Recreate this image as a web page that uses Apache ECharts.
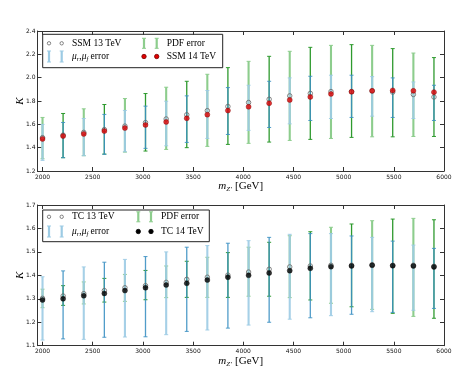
<!DOCTYPE html>
<html><head><meta charset="utf-8">
<script src="https://cdn.jsdelivr.net/npm/echarts@6/dist/echarts.min.js"></script>
<style>html,body{margin:0;padding:0;background:#fff}#c{width:473px;height:385px}</style>
</head><body><div id="c"></div>
<script>
const mass = [2000, 2205, 2411, 2616, 2821, 3026, 3232, 3437, 3642, 3847, 4053, 4258, 4463, 4668, 4874, 5079, 5284, 5489, 5695, 5900];
const xTicks = [2000, 2500, 3000, 3500, 4000, 4500, 5000, 5500, 6000];

const ssm13 = [1.486, 1.508, 1.531, 1.555, 1.585, 1.615, 1.646, 1.682, 1.717, 1.753, 1.787, 1.815, 1.844, 1.865, 1.881, 1.880, 1.886, 1.876, 1.856, 1.834];
const ssm14 = [1.475, 1.499, 1.518, 1.542, 1.568, 1.595, 1.621, 1.652, 1.683, 1.718, 1.750, 1.781, 1.809, 1.835, 1.861, 1.879, 1.887, 1.891, 1.887, 1.876];
const ssmPdfLo = [1.305, 1.314, 1.331, 1.345, 1.362, 1.371, 1.385, 1.400, 1.411, 1.428, 1.437, 1.448, 1.462, 1.471, 1.479, 1.488, 1.493, 1.493, 1.496, 1.496];
const ssmPdfHi = [1.659, 1.693, 1.733, 1.770, 1.821, 1.864, 1.918, 1.969, 2.029, 2.086, 2.140, 2.183, 2.226, 2.260, 2.277, 2.283, 2.277, 2.249, 2.211, 2.172];
const ssmScaleLo = [1.291, 1.314, 1.331, 1.343, 1.365, 1.394, 1.416, 1.445, 1.479, 1.513, 1.548, 1.573, 1.604, 1.633, 1.650, 1.659, 1.670, 1.659, 1.650, 1.633];
const ssmScaleHi = [1.599, 1.616, 1.650, 1.685, 1.719, 1.756, 1.798, 1.844, 1.890, 1.915, 1.935, 1.969, 1.998, 2.012, 2.021, 2.021, 2.009, 1.998, 1.963, 1.935];

const tc13 = [1.302, 1.312, 1.322, 1.335, 1.347, 1.356, 1.370, 1.383, 1.392, 1.401, 1.414, 1.426, 1.436, 1.440, 1.443, 1.443, 1.445, 1.443, 1.443, 1.439];
const tc14 = [1.295, 1.300, 1.313, 1.323, 1.335, 1.347, 1.359, 1.366, 1.380, 1.392, 1.400, 1.410, 1.420, 1.430, 1.437, 1.440, 1.443, 1.441, 1.440, 1.436];
const tcPdfLo = [1.262, 1.272, 1.278, 1.286, 1.289, 1.296, 1.305, 1.306, 1.306, 1.306, 1.311, 1.311, 1.305, 1.295, 1.281, 1.266, 1.255, 1.238, 1.225, 1.217];
const tcPdfHi = [1.341, 1.356, 1.372, 1.387, 1.404, 1.421, 1.440, 1.460, 1.477, 1.497, 1.520, 1.541, 1.569, 1.586, 1.605, 1.619, 1.633, 1.640, 1.643, 1.637];
const tcScaleLo = [1.124, 1.129, 1.127, 1.136, 1.137, 1.138, 1.147, 1.161, 1.167, 1.175, 1.188, 1.200, 1.213, 1.219, 1.228, 1.234, 1.245, 1.242, 1.251, 1.259];
const tcScaleHi = [1.394, 1.419, 1.436, 1.456, 1.468, 1.480, 1.500, 1.520, 1.527, 1.537, 1.548, 1.562, 1.575, 1.578, 1.578, 1.568, 1.562, 1.546, 1.529, 1.515];

const COL = {
  blueL: '#9ccbe4', blueD: '#3d91c3',
  greenL: '#8dcd8d', greenD: '#2e9a2e',
  frame: '#333'
};
const SERIF = '"Liberation Serif", "DejaVu Serif", serif';
const SANS = '"DejaVu Sans", "Liberation Sans", sans-serif';

function zip3(a, b, c) { return a.map((v, i) => [v, b[i], c[i]]); }
function zip2(a, b) { return a.map((v, i) => [v, b[i]]); }

function errRender(light, dark, opacity) {
  return function (params, api) {
    const x = api.value(0), lo = api.value(1), hi = api.value(2);
    const p1 = api.coord([x, lo]), p2 = api.coord([x, hi]);
    const odd = params.dataIndex % 2 === 1;
    const c = odd ? dark : light;
    const w = odd ? 1.3 : 2.1;
    const st = { stroke: c, lineWidth: w, opacity: opacity };
    const cst = { stroke: c, lineWidth: 1, opacity: opacity };
    return { type: 'group', children: [
      { type: 'line', shape: { x1: p1[0], y1: p1[1], x2: p2[0], y2: p2[1] }, style: st },
      { type: 'line', shape: { x1: p1[0] - 2, y1: p1[1], x2: p1[0] + 2, y2: p1[1] }, style: cst },
      { type: 'line', shape: { x1: p2[0] - 2, y1: p2[1], x2: p2[0] + 2, y2: p2[1] }, style: cst }
    ]};
  };
}

const xNameRich = {
  i: { fontFamily: SERIF, fontStyle: 'italic', fontSize: 11, color: '#000' },
  s: { fontFamily: SERIF, fontStyle: 'italic', fontSize: 7, color: '#000', padding: [6, 0, 0, 0] },
  n: { fontFamily: SERIF, fontSize: 11, color: '#000' }
};

function xAxes(gi) {
  return [
    { gridIndex: gi, type: 'value', min: 1950, max: 6000, position: 'bottom',
      name: '{i|m}{s|Z\u2032} {n|[GeV]}', nameLocation: 'middle', nameGap: 9, nameMoveOverlap: false,
      nameTextStyle: { rich: xNameRich },
      axisLine: { show: true, lineStyle: { color: COL.frame, width: 1 } },
      axisTick: { show: true, inside: true, length: 4, customValues: xTicks, lineStyle: { color: COL.frame } },
      axisLabel: { show: true, customValues: xTicks, fontSize: 6, fontFamily: SANS, color: '#111', margin: 3, formatter: v => String(Math.round(v)) },
      splitLine: { show: false } },
    { gridIndex: gi, type: 'value', min: 1950, max: 6000, position: 'top',
      axisLine: { show: true, lineStyle: { color: COL.frame, width: 1 } },
      axisTick: { show: true, inside: true, length: 4, customValues: xTicks, lineStyle: { color: COL.frame } },
      axisLabel: { show: false }, splitLine: { show: false } }
  ];
}
function yAxes(gi, min, max, step) {
  return [
    { gridIndex: gi, type: 'value', min: min, max: max, interval: step, position: 'left',
      name: 'K', nameLocation: 'middle', nameGap: 12, nameMoveOverlap: false,
      nameTextStyle: { fontFamily: SERIF, fontStyle: 'italic', fontSize: 11, color: '#000' },
      axisLine: { show: true, lineStyle: { color: COL.frame, width: 1 } },
      axisTick: { show: true, inside: true, length: 4, lineStyle: { color: COL.frame } },
      axisLabel: { fontSize: 6, fontFamily: SANS, color: '#111', margin: 2, formatter: v => v.toFixed(1) },
      splitLine: { show: false } },
    { gridIndex: gi, type: 'value', min: min, max: max, interval: step, position: 'right',
      axisLine: { show: true, lineStyle: { color: COL.frame, width: 1 } },
      axisTick: { show: true, inside: true, length: 4, lineStyle: { color: COL.frame } },
      axisLabel: { show: false }, splitLine: { show: false } }
  ];
}

function errSeries(xi, yi, data, light, dark, op, z) {
  return { type: 'custom', xAxisIndex: xi, yAxisIndex: yi, data: data, z: z,
    renderItem: errRender(light, dark, op), encode: { x: 0, y: [1, 2] }, silent: true };
}
function ptSeries(xi, yi, data, opts, z) {
  return Object.assign({ type: 'scatter', xAxisIndex: xi, yAxisIndex: yi, data: data, z: z, silent: true }, opts);
}

const open13 = { symbol: 'circle', symbolSize: 4.5, itemStyle: { color: 'rgba(255,255,255,0)', borderColor: '#666', borderWidth: 1 } };
const red14 = { symbol: 'circle', symbolSize: 5, itemStyle: { color: '#e00000', borderColor: '#700', borderWidth: 0.5 } };
const blk14 = { symbol: 'circle', symbolSize: 5, itemStyle: { color: '#000', borderColor: '#000', borderWidth: 0.5 } };

// Legend (graphic)
const lt = { fontFamily: SERIF, fontSize: 9.5, fill: '#000' };
function legendBar(x, yc, color, h) {
  return [
    { type: 'line', shape: { x1: x, y1: yc - h / 2, x2: x, y2: yc + h / 2 }, style: { stroke: color, lineWidth: 2.2 } },
    { type: 'line', shape: { x1: x - 2, y1: yc - h / 2, x2: x + 2, y2: yc - h / 2 }, style: { stroke: color, lineWidth: 1 } },
    { type: 'line', shape: { x1: x - 2, y1: yc + h / 2, x2: x + 2, y2: yc + h / 2 }, style: { stroke: color, lineWidth: 1 } }
  ];
}
function legendDot(x, yc, r, fill, stroke) {
  return { type: 'circle', shape: { cx: x, cy: yc, r: r }, style: { fill: fill, stroke: stroke, lineWidth: 0.8 } };
}
function muText(x, y) {
  return { type: 'text', x: x, y: y, style: { text: '{m|\u03bc}{s|r}{c|,}{m|\u03bc}{s|f}{c| error}', verticalAlign: 'middle',
    rich: { m: { fontFamily: SERIF, fontStyle: 'italic', fontSize: 9.5 }, s: { fontFamily: SERIF, fontStyle: 'italic', fontSize: 6.5, padding: [5, 0, 0, 0] }, c: { fontFamily: SERIF, fontSize: 9.5 } } } };
}
function legend(box, r1, r2, c2x, lab13, lab14, fill14, stroke14) {
  const g = [];
  g.push({ type: 'rect', shape: { x: box[0], y: box[1], width: box[2], height: box[3] }, style: { fill: '#fff', stroke: '#222', lineWidth: 1 } });
  g.push(legendDot(49, r1, 1.7, '#fff', '#666'));
  g.push(legendDot(61.7, r1, 1.7, '#fff', '#666'));
  g.push({ type: 'text', x: 72, y: r1, style: Object.assign({ text: lab13, verticalAlign: 'middle' }, lt) });
  legendBar(49, r2, COL.blueL, 11).forEach(e => g.push(e));
  legendBar(61.7, r2, COL.blueL, 11).forEach(e => g.push(e));
  g.push(muText(72, r2));
  legendBar(c2x, r1, COL.greenL, 10).forEach(e => g.push(e));
  legendBar(c2x + 12.7, r1, COL.greenL, 10).forEach(e => g.push(e));
  g.push({ type: 'text', x: c2x + 10 + 12.7, y: r1, style: Object.assign({ text: 'PDF error', verticalAlign: 'middle' }, lt) });
  g.push(legendDot(c2x, r2, 2.2, fill14, stroke14));
  g.push(legendDot(c2x + 12.7, r2, 2.2, fill14, stroke14));
  g.push({ type: 'text', x: c2x + 10 + 12.7, y: r2, style: Object.assign({ text: lab14, verticalAlign: 'middle' }, lt) });
  return { type: 'group', z: 100, children: g };
}

const chart = echarts.init(document.getElementById('c'), null, { renderer: 'canvas' });
chart.setOption({
  animation: false,
  backgroundColor: '#fff',
  grid: [
    { left: 37.5, top: 31, width: 406.5, height: 140 },
    { left: 37.5, top: 205, width: 406.5, height: 140.7 }
  ],
  xAxis: [...xAxes(0), ...xAxes(1)],
  yAxis: [...yAxes(0, 1.2, 2.4, 0.2), ...yAxes(1, 1.1, 1.7, 0.1)],
  series: [
    errSeries(0, 0, zip3(mass, ssmPdfLo, ssmPdfHi), COL.greenL, COL.greenD, 1, 2),
    errSeries(0, 0, zip3(mass, ssmScaleLo, ssmScaleHi), COL.blueL, COL.blueD, 0.9, 3),
    ptSeries(0, 0, zip2(mass, ssm13), open13, 4),
    ptSeries(0, 0, zip2(mass, ssm14), red14, 5),
    errSeries(2, 2, zip3(mass, tcPdfLo, tcPdfHi), COL.greenL, COL.greenD, 1, 2),
    errSeries(2, 2, zip3(mass, tcScaleLo, tcScaleHi), COL.blueL, COL.blueD, 0.9, 3),
    ptSeries(2, 2, zip2(mass, tc13), open13, 4),
    ptSeries(2, 2, zip2(mass, tc14), blk14, 5)
  ],
  graphic: [
    legend([42.7, 34.3, 180, 33.4], 43.3, 56.5, 144, 'SSM 13 TeV', 'SSM 14 TeV', '#e00000', '#700'),
    legend([42.7, 210, 166.6, 31.7], 216.8, 231.5, 138.3, 'TC 13 TeV', 'TC 14 TeV', '#000', '#000')
  ]
});
</script></body></html>
